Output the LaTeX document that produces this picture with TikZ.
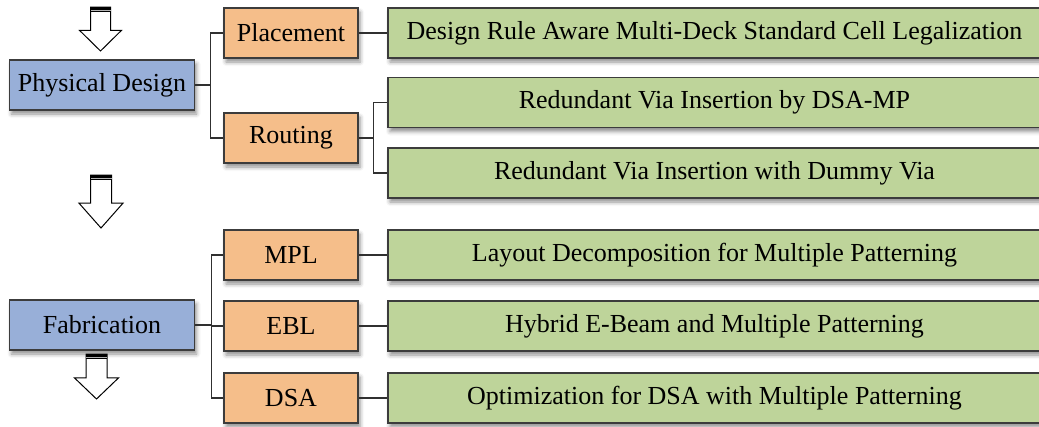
\documentclass[tikz,border=0pt]{standalone}
\usepackage{fontspec}
\setmainfont{Liberation Serif}
\usetikzlibrary{shadows.blur}
\definecolor{stageblue}{HTML}{98AFD8}
\definecolor{topicorange}{HTML}{F5BE8A}
\definecolor{workgreen}{HTML}{BED49A}
\definecolor{edgegrey}{HTML}{3C3C3C}
\definecolor{linkgrey}{HTML}{303030}
\tikzset{
  boxbase/.style={draw=edgegrey, line width=1.3pt, inner sep=0pt,
    font=\fontsize{26}{30}\selectfont,
    blur shadow={shadow xshift=2pt, shadow yshift=-4pt, shadow blur radius=4pt, shadow opacity=45}},
  stagebox/.style={boxbase, fill=stageblue, minimum width=185pt, minimum height=50pt},
  topicbox/.style={boxbase, fill=topicorange, minimum width=134pt, minimum height=50pt},
  workbox/.style={boxbase, fill=workgreen, minimum width=653pt, minimum height=50pt},
  link/.style={draw=linkgrey, line width=1.2pt},
  flowarrow/.style={draw=black, line width=1pt, fill=white, line join=miter}
}
% hollow block arrow with a double bar across its top
\newcommand{\flowdown}[4]{% x-centre, top, stem half-width, total length
  \pgfmathsetmacro{\fl}{#1-#3}\pgfmathsetmacro{\fr}{#1+#3}
  \pgfmathsetmacro{\hl}{#1-2.1*#3}\pgfmathsetmacro{\hr}{#1+2.1*#3}
  \pgfmathsetmacro{\hb}{#2+#4*0.53}\pgfmathsetmacro{\tip}{#2+#4}
  \draw[flowarrow] (\fl,#2) -- (\fr,#2) -- (\fr,\hb) -- (\hr,\hb) -- (#1,\tip)
     -- (\hl,\hb) -- (\fl,\hb) -- cycle;
  \fill[black] (\fl,#2) rectangle (\fr,#2+2.6);
  \fill[gray!60] (\fl,#2+2.6) rectangle (\fr,#2+4);
  \fill[black] (\fl,#2+4) rectangle (\fr,#2+5.2);
}
\begin{document}
\begin{tikzpicture}[x=1pt, y=-1pt]
\useasboundingbox (0,0) rectangle (1039,426);

% stages
\node[stagebox] (pd)  at (102,85)  {Physical Design};
\node[stagebox] (fab) at (102,325) {Fabrication};

% topics
\node[topicbox] (pl)  at (291,33)  {Placement};
\node[topicbox] (rt)  at (291,138) {Routing};
\node[topicbox] (mpl) at (291,255) {MPL};
\node[topicbox] (ebl) at (291,326) {EBL};
\node[topicbox] (dsa) at (291,398) {DSA};

% works
\node[workbox] (w1) at (714.5,33)    {Design Rule Aware Multi-Deck Standard Cell Legalization};
\node[workbox] (w2) at (714.5,102.5) {Redundant Via Insertion by DSA-MP};
\node[workbox] (w3) at (714.5,173)   {Redundant Via Insertion with Dummy Via};
\node[workbox] (w4) at (714.5,255)   {Layout Decomposition for Multiple Patterning};
\node[workbox] (w5) at (714.5,326)   {Hybrid E-Beam and Multiple Patterning};
\node[workbox] (w6) at (714.5,398)   {Optimization for DSA with Multiple Patterning};

% connectors
\draw[link] (pd.east) -- ++(15,0) |- (pl.west);
\draw[link] (pd.east) -- ++(15,0) |- (rt.west);
\draw[link] (pl.east) -- (w1.west);
\draw[link] (rt.east) -- ++(15,0) |- (w2.west);
\draw[link] (rt.east) -- ++(15,0) |- (w3.west);
\draw[link] (fab.east) -- ++(16,0) |- (mpl.west);
\draw[link] (fab.east) -- ++(16,0) |- (ebl.west);
\draw[link] (fab.east) -- ++(16,0) |- (dsa.west);
\draw[link] (mpl.east) -- (w4.west);
\draw[link] (ebl.east) -- (w5.west);
\draw[link] (dsa.east) -- (w6.west);

% flow arrows
\flowdown{100.5}{7}{10}{44}
\flowdown{101}{175}{10.5}{53}
\flowdown{96.5}{354}{10.5}{45}
\end{tikzpicture}
\end{document}
